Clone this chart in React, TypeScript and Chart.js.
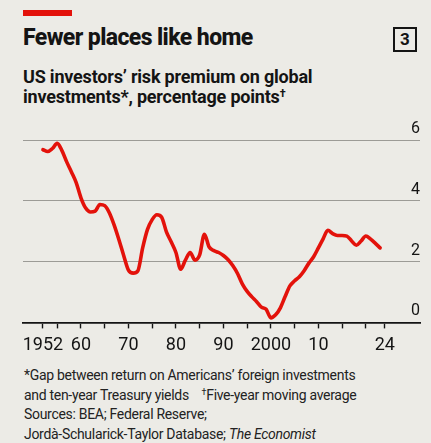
import React, { useEffect, useRef } from "react";
import { Chart, registerables } from "chart.js";

Chart.register(...registerables);

const years = [
  1952, 1953, 1954, 1955, 1956, 1957, 1958, 1959, 1960, 1961,
  1962, 1963, 1964, 1965, 1966, 1967, 1968, 1969, 1970, 1971,
  1972, 1973, 1974, 1975, 1976, 1977, 1978, 1979, 1980, 1981,
  1982, 1983, 1984, 1985, 1986, 1987, 1988, 1989, 1990, 1991,
  1992, 1993, 1994, 1995, 1996, 1997, 1998, 1999, 2000, 2001,
  2002, 2003, 2004, 2005, 2006, 2007, 2008, 2009, 2010, 2011,
  2012, 2013, 2014, 2015, 2016, 2017, 2018, 2019, 2020, 2021,
  2022, 2023,
];

const premium = [
  5.68, 5.62, 5.72, 5.89, 5.65, 5.28, 4.95, 4.6, 4.1, 3.76,
  3.63, 3.66, 3.88, 3.84, 3.6, 3.2, 2.72, 2.2, 1.72, 1.62,
  1.7, 2.45, 3.05, 3.38, 3.54, 3.46, 2.98, 2.65, 2.3, 1.75,
  2.05, 2.3, 2.05, 2.22, 2.9, 2.48, 2.36, 2.3, 2.2, 2.06,
  1.86, 1.6, 1.26, 1.02, 0.84, 0.68, 0.5, 0.43, 0.15, 0.25,
  0.48, 0.85, 1.2, 1.37, 1.5, 1.7, 1.95, 2.16, 2.45, 2.75,
  3.03, 2.92, 2.86, 2.86, 2.84, 2.68, 2.54, 2.68, 2.84, 2.74,
  2.6, 2.45,
];

const yTicks = [0, 2, 4, 6];
const xTickYears = [1952, 1955, 1960, 1965, 1970, 1975, 1980, 1985, 1990, 1995, 2000, 2005, 2010, 2015, 2020, 2024];
const xTickLabels = ["1952", "", "60", "", "70", "", "80", "", "90", "", "2000", "", "10", "", "", "24"];

const RED = "#e3120b";
const INK = "#141414";
const BG = "#ecebe6";
const FONT = "Roboto, 'Liberation Sans', sans-serif";

export default function App() {
  const canvasRef = useRef<HTMLCanvasElement | null>(null);

  useEffect(() => {
    const canvas = canvasRef.current;
    if (!canvas) return;
    const chart = new Chart(canvas, {
      type: "line",
      data: {
        datasets: [
          {
            data: years.map((y, i) => ({ x: y, y: premium[i] })),
            borderColor: RED,
            borderWidth: 3.6,
            pointRadius: 0,
            fill: false,
            cubicInterpolationMode: "monotone",
            borderJoinStyle: "round",
            borderCapStyle: "round",
            clip: false as any,
          },
        ],
      },
      options: {
        responsive: false,
        animation: false,
        events: [],
        layout: { padding: { left: 23, right: 11, top: 30, bottom: 4 } },
        plugins: { legend: { display: false }, tooltip: { enabled: false }, title: { display: false } },
        scales: {
          x: {
            type: "linear",
            min: 1947.8,
            max: 2031.4,
            afterBuildTicks: (s: any) => {
              s.ticks = xTickYears.map((v) => ({ value: v }));
            },
            ticks: {
              autoSkip: false,
              maxRotation: 0,
              minRotation: 0,
              padding: 6,
              color: INK,
              font: { family: FONT, size: 18 },
              callback: (v: any) => {
                const i = xTickYears.indexOf(Number(v));
                return i >= 0 ? xTickLabels[i] : "";
              },
            },
            grid: { drawOnChartArea: false, drawTicks: true, tickLength: 6, color: INK, tickWidth: 1.4 },
            border: { display: true, color: INK, width: 1.8 },
          },
          y: {
            position: "right",
            min: 0,
            max: 6,
            afterBuildTicks: (s: any) => {
              s.ticks = yTicks.map((v) => ({ value: v }));
            },
            ticks: {
              mirror: true,
              padding: 0,
              labelOffset: -11,
              color: INK,
              font: { family: FONT, size: 16 },
              callback: (v: any) => String(v),
            },
            grid: {
              drawTicks: false,
              lineWidth: 1,
              color: (ctx: any) => (ctx.tick && ctx.tick.value === 0 ? "rgba(0,0,0,0)" : "#9c9b96"),
            },
            border: { display: false },
          },
        },
      },
    });
    return () => chart.destroy();
  }, []);

  const abs = (extra: React.CSSProperties): React.CSSProperties => ({ position: "absolute", margin: 0, whiteSpace: "nowrap", ...extra });

  return (
    <div style={{ position: "fixed", left: 0, top: 0, width: 431, height: 443, background: BG, fontFamily: FONT, color: INK, overflow: "hidden" }}>
      <div style={abs({ left: 23, top: 10, width: 49, height: 6, background: RED })} />
      <div style={abs({ left: 23, top: 24, fontSize: 23, fontWeight: 800, letterSpacing: -0.6, lineHeight: "28px" })}>
        Fewer places like home
      </div>
      <div
        style={abs({
          left: 393,
          top: 27,
          width: 24,
          height: 25,
          boxSizing: "border-box",
          border: `2px solid ${INK}`,
          fontSize: 17,
          fontWeight: 700,
          lineHeight: "21px",
          textAlign: "center",
        })}
      >
        3
      </div>
      <div style={abs({ left: 23, top: 67, fontSize: 18, fontWeight: 700, lineHeight: "20px", letterSpacing: -0.2 })}>
        US investors’ risk premium on global
        <br />
        investments*, percentage points<sup style={{ fontSize: 11, verticalAlign: "top", lineHeight: "14px" }}>†</sup>
      </div>
      <canvas ref={canvasRef} width={431} height={256} style={{ position: "absolute", left: 0, top: 110, width: 431, height: 256 }} />
      <div style={abs({ left: 24, top: 366, fontSize: 14, lineHeight: "19.5px", color: "#222", letterSpacing: -0.3 })}>
        *Gap between return on Americans’ foreign investments
        <br />
        and ten-year Treasury yields&nbsp;&nbsp;&nbsp;&nbsp;<sup style={{ fontSize: 9, verticalAlign: "top", lineHeight: "12px" }}>†</sup>Five-year moving average
        <br />
        Sources: BEA; Federal Reserve;
        <br />
        Jordà-Schularick-Taylor Database; <i>The Economist</i>
      </div>
    </div>
  );
}
